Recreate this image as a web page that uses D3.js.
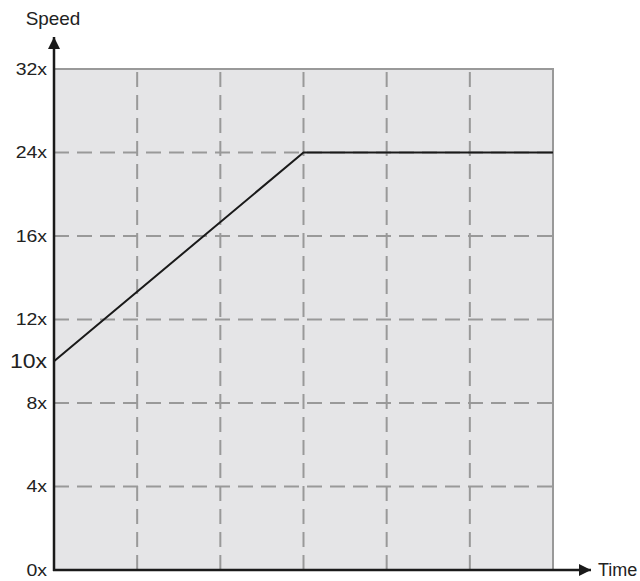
<!DOCTYPE html>
<html>
<head>
<meta charset="utf-8">
<script src="https://cdn.jsdelivr.net/npm/d3@7"></script>
<style>
  body { margin: 0; background: #fff; }
  svg { display: block; font-family: "Liberation Sans", Arial, sans-serif; }
</style>
</head>
<body>
<svg></svg>
<script>
const width = 640;
const height = 581;

// tick values on the speed axis (equally spaced, not linear)
const speedTicks = [0, 4, 8, 12, 16, 24, 32];
const timeTicks = [0, 1, 2, 3, 4, 5, 6];
// speed profile: ramps up from 10x, then holds at 24x
const timePoints = [0, 3, 6];
const speedPoints = [10, 24, 24];
const startLabel = "10x";

const margin = { left: 54, right: 87, top: 69, bottom: 11 };
const x0 = margin.left, x1 = width - margin.right;
const y0 = height - margin.bottom, y1 = margin.top;

const svg = d3.select("svg")
  .attr("width", width)
  .attr("height", height);

const x = d3.scaleLinear().domain([0, 6]).range([x0, x1]);
const y = d3.scaleLinear()
  .domain(speedTicks)
  .range(speedTicks.map((d, i) => y0 - i * (y0 - y1) / (speedTicks.length - 1)));

// labels in the original are a bit wide, so stretch them horizontally
function label(g, tx, ty, txt, size, anchor, sx) {
  return g.append("text")
    .attr("transform", `translate(${tx},${ty}) scale(${sx},1)`)
    .attr("dy", "0.35em")
    .attr("text-anchor", anchor)
    .attr("font-size", size)
    .attr("fill", "#222")
    .text(txt);
}

// plot background
svg.append("rect")
  .attr("x", x0).attr("y", y1)
  .attr("width", x1 - x0).attr("height", y0 - y1)
  .attr("fill", "#e5e5e7");

// dashed grid
svg.append("g").selectAll("line")
  .data(speedTicks.filter(d => d > 0 && d < 32))
  .enter().append("line")
  .attr("x1", x0).attr("x2", x1)
  .attr("y1", d => y(d)).attr("y2", d => y(d))
  .attr("stroke", "#999")
  .attr("stroke-width", 2)
  .attr("stroke-dasharray", "15,8");

svg.append("g").selectAll("line")
  .data(timeTicks.filter(d => d > 0 && d < 6))
  .enter().append("line")
  .attr("x1", d => x(d)).attr("x2", d => x(d))
  .attr("y1", y0).attr("y2", y1)
  .attr("stroke", "#999")
  .attr("stroke-width", 2)
  .attr("stroke-dasharray", "15,8");

// top and right border
svg.append("path")
  .attr("d", `M${x0},${y(32)}H${x(6)}V${y0}`)
  .attr("fill", "none")
  .attr("stroke", "#999")
  .attr("stroke-width", 2);

// the speed line
const line = d3.line()
  .x((d, i) => x(timePoints[i]))
  .y(d => y(d));

svg.append("path")
  .datum(speedPoints)
  .attr("d", line)
  .attr("fill", "none")
  .attr("stroke", "#1a1a1a")
  .attr("stroke-width", 2);

// axes with arrows
svg.append("defs").append("marker")
  .attr("id", "arrow")
  .attr("viewBox", "0 0 10 10")
  .attr("refX", 10).attr("refY", 5)
  .attr("markerWidth", 12).attr("markerHeight", 12)
  .attr("markerUnits", "userSpaceOnUse")
  .attr("orient", "auto")
  .append("path")
  .attr("d", "M0,0L10,5L0,10Z")
  .attr("fill", "#1a1a1a");

svg.append("line")
  .attr("x1", x0).attr("x2", x0)
  .attr("y1", y0 + 1).attr("y2", 37)
  .attr("stroke", "#1a1a1a")
  .attr("stroke-width", 2.5)
  .attr("marker-end", "url(#arrow)");

svg.append("line")
  .attr("x1", x0 - 1).attr("x2", 591)
  .attr("y1", y0).attr("y2", y0)
  .attr("stroke", "#1a1a1a")
  .attr("stroke-width", 2.5)
  .attr("marker-end", "url(#arrow)");

// tick labels
const tickG = svg.append("g");
speedTicks.forEach(d => label(tickG, x0 - 7, y(d), d + "x", 16.5, "end", 1.18));
label(svg, x0 - 7, y(speedPoints[0]), startLabel, 20, "end", 1.15);

// axis titles
label(svg, 53, 19, "Speed", 17.5, "middle", 1.08);
label(svg, 598, 570, "Time", 18, "start", 1.0);
</script>
</body>
</html>
